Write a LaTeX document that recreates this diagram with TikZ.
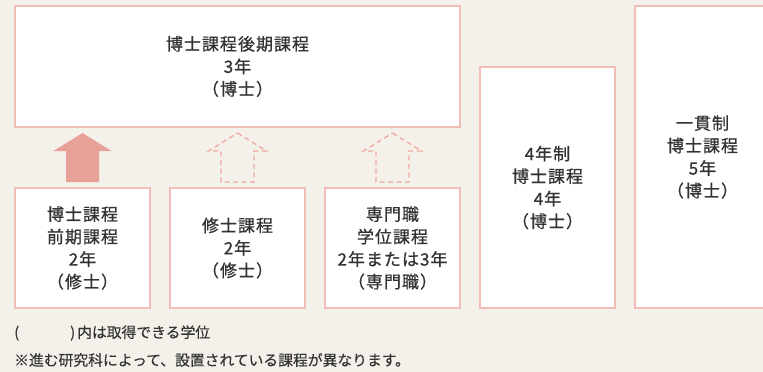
\documentclass[tikz,border=0pt]{standalone}
\usepackage{fontspec}
\setmainfont{Noto Sans CJK JP}
\newfontfamily\jpbox[LetterSpace=6,FakeBold=0.8]{Noto Sans CJK JP}
\newfontfamily\jpnote[FakeBold=0.3]{Noto Sans CJK JP}
\usetikzlibrary{calc}
\definecolor{bg}{HTML}{F4F1EA}
\definecolor{boxline}{HTML}{F2BDB6}
\definecolor{arrowfill}{HTML}{E8A199}
\definecolor{arrowdash}{HTML}{F0A89E}
\definecolor{txt}{HTML}{333333}
\tikzset{
  course/.style={draw=boxline, fill=white, line width=1.2pt, inner sep=0pt, align=center,
    font=\jpbox\fontsize{17}{22.5}\selectfont, text=txt},
  note/.style={anchor=west, inner sep=0pt, font=\jpnote\fontsize{14.8}{17}\selectfont, text=txt},
  blockarrow/.pic={\path[pic actions] (0,-24.5) -- (29,-6.5) -- (16.5,-6.5) -- (16.5,24.5)
    -- (-16.5,24.5) -- (-16.5,-6.5) -- (-29,-6.5) -- cycle;},
  solidarrow/.style={fill=arrowfill},
  dasharrow/.style={draw=arrowdash, dash pattern=on 5pt off 3.5pt, line width=1.3pt}
}
\begin{document}
\begin{tikzpicture}[x=1pt,y=-1pt]
\useasboundingbox (0,0) rectangle (763,372);
\clip (0,0) rectangle (763,372);
\fill[bg] (0,0) rectangle (763,372);
\node[course, minimum width=445pt, minimum height=121pt] (top) at (237.5,66.5)
  {博士課程後期課程\\3年\\（博士）};
\node[course, minimum width=135pt, minimum height=120pt] (b1) at (82.5,248)
  {博士課程\\前期課程\\2年\\（修士）};
\node[course, minimum width=135pt, minimum height=120pt] (b2) at (237.5,248)
  {修士課程\\2年\\（修士）};
\node[course, minimum width=135pt, minimum height=120pt] (b3) at (392.5,248)
  {専門職\\学位課程\\2年または3年\\（専門職）};
\node[course, minimum width=135pt, minimum height=241pt] (b4) at (547.5,187.5)
  {4年制\\博士課程\\4年\\（博士）};
\node[course, minimum width=135pt, minimum height=302pt] (b5) at (702.5,157)
  {一貫制\\博士課程\\5年\\（博士）};
\pic[solidarrow] at ($(b1.north)!0.5!(b1.north |- top.south)$) {blockarrow};
\pic[dasharrow] at ($(b2.north)!0.5!(b2.north |- top.south)$) {blockarrow};
\pic[dasharrow] at ($(b3.north)!0.5!(b3.north |- top.south)$) {blockarrow};
\node[note] (n1) at (14,333) {(\hspace{51pt})\hspace{2pt}内は取得できる学位};
\node[note] (n2) at (14,360) {※進む研究科によって、設置されている課程が異なります。};
\end{tikzpicture}
\end{document}
